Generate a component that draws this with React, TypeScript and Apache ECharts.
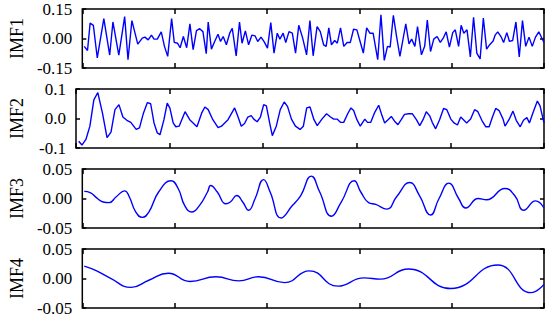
import React, { useEffect, useRef } from 'react';
import * as echarts from 'echarts';

const imfNames = ['IMF1', 'IMF2', 'IMF3', 'IMF4'];
const yLimits = [0.15, 0.1, 0.05, 0.05];
const yDecimals = [2, 1, 2, 2];
const xMax = 472;
const xInterval = 94.4;

const imf1: [number, number][] = [
  [2, -0.04], [5.3, -0.061], [8, 0.078], [11.3, 0.067], [15.3, -0.099], [22, 0.101], [28, -0.084], [31.3, 0.084],
  [37.3, -0.084], [43.3, 0.111], [46.7, -0.108], [50.7, 0.091], [56.7, -0.029], [61.3, 0.002], [64, 0.007], [67.3, -0.007],
  [70.7, 0.017], [73.3, -0.003], [76.7, -0.003], [80.7, 0.034], [84, -0.04], [87.3, -0.091], [91.3, 0.101], [94, -0.02],
  [97.3, -0.024], [100, -0.047], [103.3, 0.01], [106.7, -0.047], [110, 0.074], [113.3, -0.057], [116.7, 0.04], [120, 0.05],
  [123.3, 0.035], [126.7, -0.077], [128.7, 0.084], [132, -0.054], [135.3, -0.015], [138.7, 0.022], [141.3, -0.015], [144, 0.01],
  [147.3, -0.032], [150.7, 0.027], [153.3, 0.052], [157.3, -0.088], [160.7, 0.084], [163.3, -0.024], [166.7, 0.039], [170, -0.032],
  [173.3, 0.017], [176.7, 0.013], [179.3, -0.015], [182.7, 0.007], [186, -0.017], [189.3, -0.049], [192.7, 0.081], [196, -0.074],
  [199.3, 0.027], [202, -0.003], [205.3, 0.027], [208, -0.02], [211.3, 0.035], [214.7, 0.027], [218, -0.074], [221.3, 0.067],
  [225.3, 0.002], [229.3, -0.083], [232.7, 0.091], [236, -0.088], [240, 0.061], [243.3, 0.035], [246.7, -0.032], [249.3, -0.04],
  [252, 0.054], [254.7, -0.032], [258, -0.01], [260.7, -0.024], [264, 0.054], [267.3, -0.04], [270.7, -0.02], [274, -0.02],
  [277.3, 0.047], [280.7, 0.044], [284, -0.015], [287.3, -0.074], [290.7, 0.054], [294, 0.027], [297.3, 0.027], [302, -0.108],
  [305.3, 0.121], [308.7, -0.111], [312, -0.04], [314.7, -0.044], [318, 0.118], [321.3, 0.01], [324.7, -0.091], [328, 0],
  [330.7, 0.074], [334, -0.027], [336.7, -0.003], [340, -0.04], [342.7, 0.061], [346.7, -0.083], [350, -0.04], [352.7, 0.094],
  [356, -0.066], [359.3, -0.003], [362.7, 0.01], [366, -0.02], [369.3, 0.005], [372, 0.034], [375.3, -0.044], [378.7, 0.03],
  [381.3, 0.044], [384.7, -0.04], [387.3, 0.067], [390, 0.027], [393.3, 0.044], [396.7, -0.094], [400, 0.108], [403.3, -0.074],
  [406.7, -0.104], [410, 0.104], [413.3, -0.054], [416.7, -0.03], [420, -0.013], [422, 0.017], [424.7, 0.034], [428, 0.01],
  [430.7, -0.02], [434, 0.03], [436.7, -0.015], [440, -0.01], [443.3, 0.084], [446.7, -0.094], [450, 0.091], [453.3, -0.04],
  [456.7, 0.007], [460, -0.04], [463.3, 0.007], [466.7, 0.034], [470, 0], [472, -0.02],
];

const imf2: [number, number][] = [
  [2.7, -0.077], [6, -0.09], [10, -0.071], [14, -0.026], [18, 0.063], [22, 0.088], [26.7, 0.018], [31.3, -0.065],
  [35.3, -0.046], [39.3, 0.03], [43.3, 0.047], [47.3, 0.005], [51.3, -0.006], [55.3, -0.013], [60.7, -0.037], [64, -0.032],
  [68, 0.018], [72, 0.054], [75.3, 0.05], [78.7, -0.015], [82, -0.049], [84.7, -0.055], [88.7, -0.004], [92, 0.052],
  [94.7, 0.035], [98, -0.015], [100.7, -0.028], [104, -0.026], [110, 0.023], [114.7, -0.004], [122, -0.028], [126.7, 0.018],
  [130, 0.039], [133.3, 0.03], [138, -0.004], [143.3, -0.031], [146.7, -0.026], [153.3, -0.004], [160, 0.036], [163.3, 0.007],
  [166.7, -0.026], [170, -0.017], [173.3, 0.005], [176.7, 0.01], [179.3, -0.002], [182.7, -0.011], [186, 0.005], [189.3, 0.047],
  [192, 0.043], [195.3, -0.015], [198, -0.058], [202, -0.026], [206, 0.03], [210, 0.056], [213.3, 0.041], [217.3, -0.002],
  [221.3, -0.026], [226, -0.037], [229.3, -0.026], [232.7, 0.036], [236, 0.039], [240, -0.004], [243.3, -0.024], [248, -0.002],
  [252.7, 0.016], [256.7, 0.005], [260, -0.002], [263.3, -0.002], [266.7, -0.013], [270, -0.013], [274, 0.016], [277.3, 0.036],
  [280, 0.027], [283.3, -0.004], [286.7, -0.026], [291.3, -0.002], [294, -0.013], [297.3, -0.013], [301.3, 0.021], [305.3, 0.045],
  [308.7, 0.009], [311.3, -0.015], [314.7, -0.004], [318, 0.007], [321.3, -0.009], [324.7, -0.021], [328, -0.004], [331.3, 0.014],
  [335.3, 0.016], [339.3, 0.016], [343.3, -0.004], [346.7, -0.024], [350, -0.004], [353.3, 0.023], [356.7, 0.009], [359.3, -0.013],
  [362.7, -0.035], [366.7, -0.004], [370.7, 0.034], [374, 0.03], [378, -0.002], [381.3, -0.015], [384.7, -0.022], [388, 0.005],
  [391.3, -0.006], [394, -0.015], [398, -0.002], [402, 0.03], [405.3, 0.023], [409.3, -0.006], [413.3, -0.028], [416.7, -0.028],
  [420, 0.005], [423.3, 0.034], [426.7, 0.027], [430.7, -0.002], [432.7, -0.026], [436.7, -0.004], [440.7, 0.025], [444, -0.006],
  [448, -0.028], [451.3, -0.006], [454.7, 0.003], [457.3, -0.015], [460.7, 0.018], [465.3, 0.059], [468, 0.043], [472, -0.015],
];

const imf3: [number, number][] = [
  [2, 0.012], [8, 0.01], [14.7, 0.001], [21.3, -0.006], [27.3, -0.007], [34.7, 0.003], [43.3, 0.013], [48, 0.003],
  [54.7, -0.023], [61.3, -0.032], [68, -0.023], [78, 0.011], [90.7, 0.03], [98, 0.017], [104.7, -0.012], [112, -0.023],
  [119.7, -0.012], [128, 0.011], [131.3, 0.022], [138, 0.011], [146.7, -0.009], [151.3, -0.006], [158, 0.005], [164, -0.006],
  [170, -0.02], [176.7, 0], [185.3, 0.032], [192, 0.011], [203.3, -0.033], [214.7, -0.012], [223.3, 0.005], [234, 0.038],
  [242.7, 0.011], [254.7, -0.03], [264.7, -0.006], [278, 0.03], [284.7, 0.011], [292.7, -0.007], [300, -0.01], [311.3, -0.018],
  [321.3, 0.003], [334.7, 0.027], [344.7, 0.005], [356, -0.028], [364.7, 0], [374.7, 0.026], [384.7, 0], [392, -0.016],
  [404.7, 0], [413.3, -0.002], [432, 0.017], [442, 0.005], [451.3, -0.02], [463.3, -0.004], [472, -0.016],
];

const imf4: [number, number][] = [
  [2, 0.021], [14.7, 0.013], [28, 0.001], [50, -0.015], [68, -0.003], [88, 0.009], [110, -0.005], [136.7, 0.003],
  [160, -0.004], [180, 0.003], [206.7, -0.007], [232, 0.013], [261.3, -0.013], [288, 0.001], [304.7, -0.001], [333.3, 0.016],
  [376.7, -0.017], [424.7, 0.023], [458.7, -0.024], [472, -0.01],
];

const seriesData = [imf1, imf2, imf3, imf4];
const smoothing: (boolean | number)[] = [false, false, 0.5, 0.5];

export default function App() {
  const ref = useRef<HTMLDivElement>(null);
  useEffect(() => {
    const chart = echarts.init(ref.current!, null, { renderer: 'svg' });
    const tops = [9, 89, 169, 249];
    const font = "'Liberation Serif', 'Times New Roman', serif";
    const tick = { show: true, inside: true, length: 5, lineStyle: { color: '#000', width: 1.5 } };
    const grids: any[] = [];
    const xAxes: any[] = [];
    const yAxes: any[] = [];
    const series: any[] = [];
    seriesData.forEach((data, i) => {
      grids.push({
        left: 72, right: 6, top: tops[i], height: 59, show: true,
        borderColor: '#000', borderWidth: 1.5, backgroundColor: 'transparent',
      });
      ['bottom', 'top'].forEach((pos) => {
        xAxes.push({
          type: 'value', gridIndex: i, position: pos, min: 0, max: xMax, interval: xInterval,
          axisLine: { show: false, onZero: false }, axisTick: tick, axisLabel: { show: false }, splitLine: { show: false },
        });
      });
      ['left', 'right'].forEach((pos, k) => {
        const lim = yLimits[i];
        yAxes.push({
          type: 'value', gridIndex: i, position: pos, min: -lim, max: lim, interval: lim,
          axisLine: { show: false, onZero: false }, axisTick: { ...tick, length: 4 }, splitLine: { show: false },
          axisLabel: {
            show: k === 0, margin: 10, fontFamily: font, fontSize: 17, color: '#000',
            formatter: (v: number) => (Math.abs(v) < 1e-9 ? 0 : v).toFixed(yDecimals[i]),
          },
          name: k === 0 ? imfNames[i] : '', nameLocation: 'middle', nameGap: 50,
          nameTextStyle: { fontFamily: font, fontSize: 18, color: '#000' },
        });
      });
      series.push({
        type: 'line', xAxisIndex: 2 * i, yAxisIndex: 2 * i, data, smooth: smoothing[i],
        symbol: 'none', showSymbol: false,
        lineStyle: { color: '#0000ff', width: 1.4 },
      });
    });
    chart.setOption({
      animation: false,
      grid: grids,
      xAxis: xAxes,
      yAxis: yAxes,
      series,
    });
    return () => chart.dispose();
  }, []);
  return <div ref={ref} style={{ position: 'absolute', left: 0, top: 0, width: 550, height: 320 }} />;
}
